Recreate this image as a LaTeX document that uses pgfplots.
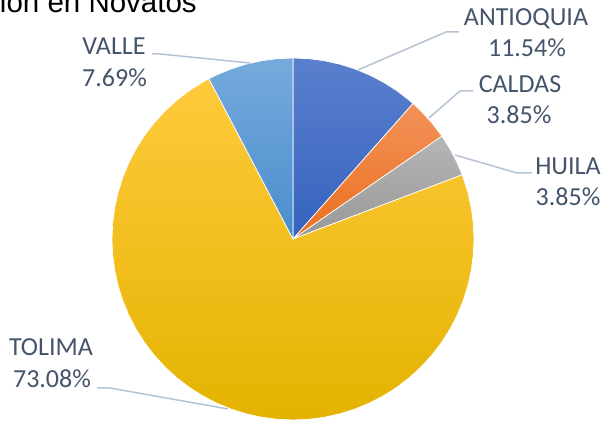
\documentclass[border=0pt]{standalone}
\usepackage{pgfplots}
\pgfplotsset{compat=1.18}
\usepackage{fontspec}
\setmainfont{Carlito}
\newfontfamily\titlefont{Liberation Sans}
\definecolor{txt}{HTML}{44546A}
\definecolor{lead}{HTML}{B4C3D5}
\definecolor{antT}{HTML}{5B7FCE}\definecolor{antB}{HTML}{3463BE}
\definecolor{calT}{HTML}{F29259}\definecolor{calB}{HTML}{EC6F1E}
\definecolor{huiT}{HTML}{B6B6B6}\definecolor{huiB}{HTML}{979797}
\definecolor{tolT}{HTML}{FFCA3C}\definecolor{tolM}{HTML}{FFC300}\definecolor{tolB}{HTML}{E4B300}
\definecolor{valT}{HTML}{76AADC}\definecolor{valB}{HTML}{4A8DCD}
% Values (%): ANTIOQUIA 11.54, CALDAS 3.85, HUILA 3.85, TOLIMA 73.08, VALLE 7.69
% Wedges start at 90 deg and run clockwise; angle = 90 - 3.6*cumulative %
\begin{document}
\begin{tikzpicture}
\useasboundingbox (0,0) rectangle (608bp,421bp);
\begin{axis}[
  at={(293bp,182bp)}, anchor=origin,
  x=181bp, y=181bp,
  xmin=-1, xmax=1, ymin=-1, ymax=1,
  hide axis, clip=false,
  every axis plot/.append style={data cs=polar, draw=white, line width=0.7bp},
]
% ANTIOQUIA 11.54%
\addplot[top color=antT, bottom color=antB, draw=white, line width=0.7bp] coordinates {
 (0,0) (90,1) (85,1) (80,1) (75,1) (70,1) (65,1) (60,1) (55,1) (50,1) (48.46,1)} -- cycle;
% CALDAS 3.85%
\addplot[top color=calT, bottom color=calB, draw=white, line width=0.7bp] coordinates {
 (0,0) (48.46,1) (45,1) (40,1) (35,1) (34.62,1)} -- cycle;
% HUILA 3.85%
\addplot[top color=huiT, bottom color=huiB, draw=white, line width=0.7bp] coordinates {
 (0,0) (34.62,1) (30,1) (25,1) (20.77,1)} -- cycle;
% TOLIMA 73.08%
\addplot[top color=tolT, middle color=tolM, bottom color=tolB, draw=white, line width=0.7bp] coordinates {
 (0,0) (20.77,1) (15,1) (10,1) (5,1) (0,1) (-5,1) (-10,1) (-15,1) (-20,1) (-25,1) (-30,1)
 (-35,1) (-40,1) (-45,1) (-50,1) (-55,1) (-60,1) (-65,1) (-70,1) (-75,1) (-80,1) (-85,1)
 (-90,1) (-95,1) (-100,1) (-105,1) (-110,1) (-115,1) (-120,1) (-125,1) (-130,1) (-135,1)
 (-140,1) (-145,1) (-150,1) (-155,1) (-160,1) (-165,1) (-170,1) (-175,1) (-180,1) (-185,1)
 (-190,1) (-195,1) (-200,1) (-205,1) (-210,1) (-215,1) (-220,1) (-225,1) (-230,1) (-235,1)
 (-240,1) (-242.31,1)} -- cycle;
% VALLE 7.69%
\addplot[top color=valT, bottom color=valB, draw=white, line width=0.7bp] coordinates {
 (0,0) (-242.31,1) (-245,1) (-250,1) (-255,1) (-260,1) (-265,1) (-270,1)} -- cycle;
\end{axis}
\begin{scope}[x=1bp, y=-1bp, yshift=421bp]
 % title (cut off by the page edge, as in the reference)
 \node[anchor=base east, inner sep=0pt, font=\titlefont\fontsize{29.5bp}{32bp}\selectfont, text=black] at (197,13) {Distribución en Novatos};
 % leader lines
 \draw[lead, line width=1.5bp] (358,70) -- (446,32) -- (459,32);
 \draw[lead, line width=1.5bp] (429,118) -- (460,91) -- (473,91);
 \draw[lead, line width=1.5bp] (455,155) -- (517,173) -- (532,173);
 \draw[lead, line width=1.5bp] (250,63) -- (160,54) -- (152,54);
 \draw[lead, line width=1.5bp] (228,409) -- (110,388) -- (97,388);
 % labels
 \tikzset{lbl/.style={anchor=base, inner sep=0pt, text=txt, font=\fontsize{26bp}{31bp}\selectfont}}
 \node[lbl] at (526,26) {ANTIOQUIA};
 \node[lbl] at (527,57) {11.54\%};
 \node[lbl] at (520,93) {CALDAS};
 \node[lbl] at (519,124) {3.85\%};
 \node[lbl] at (568,175) {HUILA};
 \node[lbl] at (568,206) {3.85\%};
 \node[lbl] at (114,55) {VALLE};
 \node[lbl] at (114.5,87) {7.69\%};
 \node[lbl] at (51,356) {TOLIMA};
 \node[lbl] at (52,388) {73.08\%};
\end{scope}
\end{tikzpicture}
\end{document}
